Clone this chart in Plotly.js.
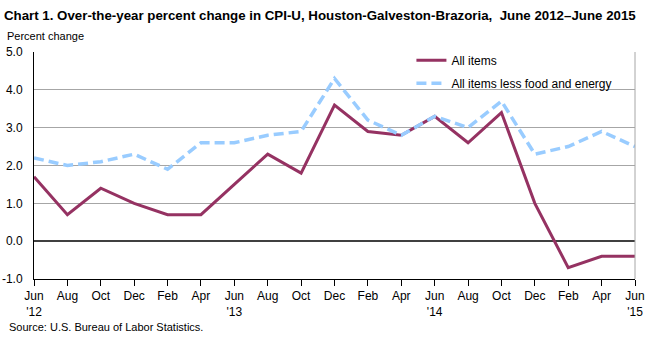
<!DOCTYPE html>
<html>
<head>
<meta charset="utf-8">
<script src="https://cdn.plot.ly/plotly-3.0.1.min.js"></script>
<style>html,body{margin:0;padding:0;background:#fff;}#chart{width:654px;height:337px;}</style>
</head>
<body>
<div id="chart"></div>
<script>
const months = ["Jun","Aug","Oct","Dec","Feb","Apr","Jun","Aug","Oct","Dec","Feb","Apr","Jun","Aug","Oct","Dec","Feb","Apr","Jun"];
const years = ["'12","","","","","","'13","","","","","","'14","","","","","","'15"];
const allItems = [1.7,0.7,1.4,1.0,0.7,0.7,1.5,2.3,1.8,3.6,2.9,2.8,3.3,2.6,3.4,1.0,-0.7,-0.4,-0.4];
const core = [2.2,2.0,2.1,2.3,1.9,2.6,2.6,2.8,2.9,4.3,3.2,2.8,3.3,3.0,3.7,2.3,2.5,2.9,2.5];
const yTicks = [-1,0,1,2,3,4,5];

const idx = months.map((m,i)=>i);
const tickText = months.map((m,i)=> years[i] ? m + "<br>" + years[i] : m);

const FONT = "Liberation Sans, Arial, sans-serif";

const traces = [
  {x: idx, y: allItems, type: "scatter", mode: "lines", name: "All items", legendgroup: "a",
   line: {color: "#953262", width: 3}},
  {x: idx, y: core, type: "scatter", mode: "lines", name: "All items less food and energy", legendgroup: "b",
   line: {color: "#99CCFF", width: 3.5, dash: "10px,5px"}}
];

const layout = {
  width: 654, height: 337,
  margin: {l: 34, r: 19, t: 52, b: 58},
  paper_bgcolor: "#fff", plot_bgcolor: "#fff",
  font: {family: FONT, size: 12, color: "#000"},
  showlegend: true,
  legend: {x: 0.628, xanchor: "left", y: 1.027, yanchor: "top", bgcolor: "rgba(255,255,255,0)",
           font: {family: FONT, size: 12, color: "#000"}, tracegroupgap: 4, traceorder: "grouped"},
  title: {text: "<b>Chart 1. Over-the-year percent change in CPI-U, Houston-Galveston-Brazoria,  June 2012–June 2015</b>",
          x: 0.006, xanchor: "left", y: 0.955, yanchor: "middle",
          font: {family: FONT, size: 13.3, color: "#000"}},
  xaxis: {range: [0, 18], tickvals: idx, ticktext: tickText, tickmode: "array",
          showgrid: false, zeroline: false, showline: true, linecolor: "#000", linewidth: 1,
          ticks: "outside", ticklen: 6, tickcolor: "#000", tickwidth: 1,
          tickfont: {family: FONT, size: 12, color: "#000"}, fixedrange: true},
  yaxis: {range: [-1, 5], tickvals: yTicks, ticktext: yTicks.map(v=>v.toFixed(1)), tickmode: "array",
          showgrid: true, gridcolor: "#A6A6A6", gridwidth: 1,
          zeroline: true, zerolinecolor: "#404040", zerolinewidth: 2,
          showline: true, linecolor: "#000", linewidth: 1, ticks: "", ticklabelstandoff: 8,
          tickfont: {family: FONT, size: 12, color: "#000"}, fixedrange: true},
  shapes: [
    {type: "line", xref: "paper", yref: "paper", x0: 1, x1: 1, y0: 0, y1: 1, line: {color: "#A6A6A6", width: 1}}
  ],
  annotations: [
    {text: "Percent change", xref: "paper", yref: "paper", x: -0.048, y: 1.0, xanchor: "left", yanchor: "bottom",
     yshift: 8, showarrow: false, font: {family: FONT, size: 11, color: "#000"}},
    {text: "Source: U.S. Bureau of Labor Statistics.", xref: "paper", yref: "paper", x: -0.045, y: 0, xanchor: "left", yanchor: "middle",
     yshift: -48, showarrow: false, font: {family: FONT, size: 11, color: "#000"}}
  ]
};

Plotly.newPlot("chart", traces, layout, {displayModeBar: false, staticPlot: true});
</script>
</body>
</html>
